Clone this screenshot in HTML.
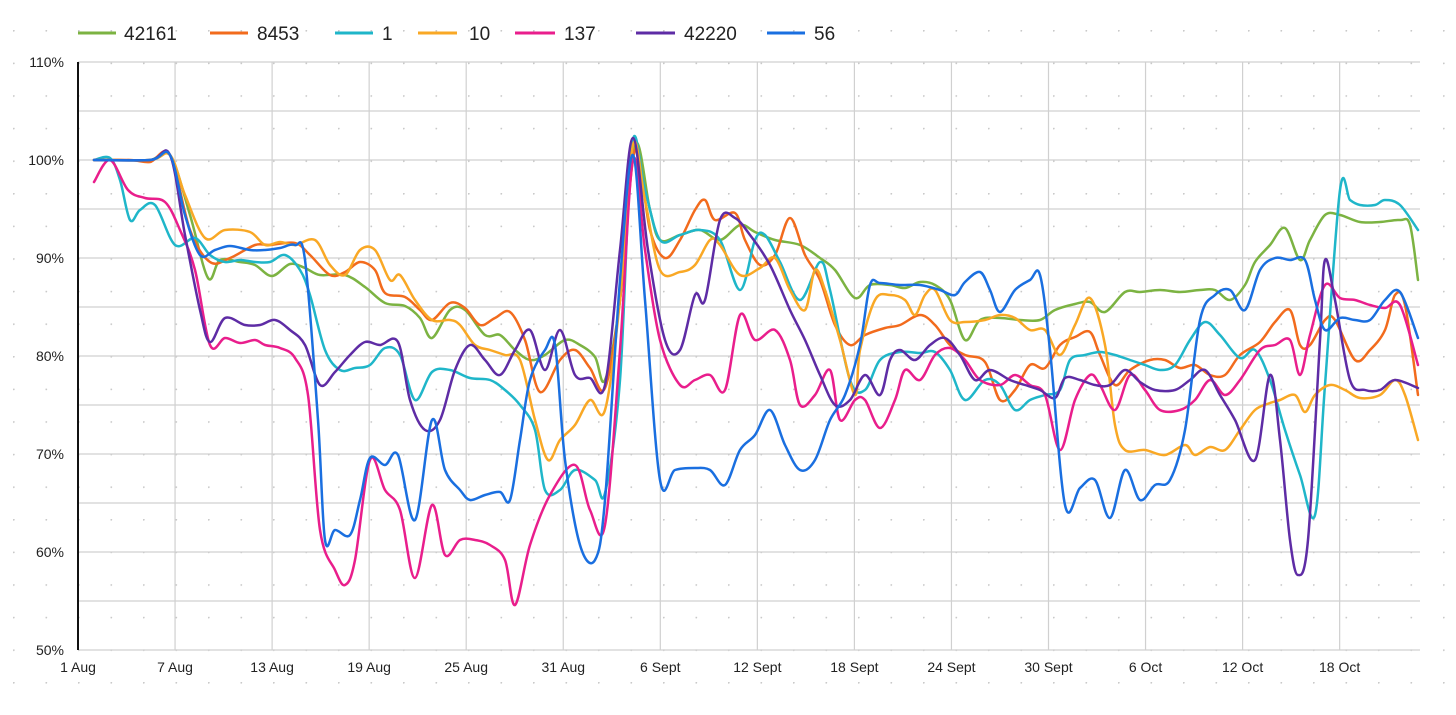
<!DOCTYPE html>
<html><head><meta charset="utf-8"><style>
html,body{margin:0;padding:0;background:#fff;}
svg text{font-family:"Liberation Sans",sans-serif;fill:#222;}
</style></head><body>
<svg id="c" width="1456" height="710" xmlns="http://www.w3.org/2000/svg">
<defs><pattern id="dots" x="13" y="30" width="32.5" height="32.6" patternUnits="userSpaceOnUse"><circle cx="0.8" cy="0.8" r="0.9" fill="#c8c8c8"/></pattern></defs>
<rect width="1456" height="710" fill="#fff"/>
<rect width="1456" height="710" fill="url(#dots)"/>
<g id="grid" stroke="#d0d0d0" stroke-width="1.2"></g>
<line x1="78" y1="62" x2="78" y2="650" stroke="#111" stroke-width="2"/>
<g id="labels" font-size="14"></g>
<g id="series" fill="none" stroke-width="2.5" stroke-linejoin="round" stroke-linecap="round"></g>
<g font-size="19">
<line x1="78" y1="33" x2="116" y2="33" stroke="#7cb342" stroke-width="3"/><text x="124" y="40">42161</text>
<line x1="210" y1="33" x2="248" y2="33" stroke="#f26b1d" stroke-width="3"/><text x="257" y="40">8453</text>
<line x1="335" y1="33" x2="373" y2="33" stroke="#1fb6c9" stroke-width="3"/><text x="382" y="40">1</text>
<line x1="418" y1="33" x2="457" y2="33" stroke="#f9a825" stroke-width="3"/><text x="469" y="40">10</text>
<line x1="515" y1="33" x2="555" y2="33" stroke="#e91e8c" stroke-width="3"/><text x="564" y="40">137</text>
<line x1="636" y1="33" x2="675" y2="33" stroke="#5e2ca5" stroke-width="3"/><text x="684" y="40">42220</text>
<line x1="767" y1="33" x2="805" y2="33" stroke="#1a6fe0" stroke-width="3"/><text x="814" y="40">56</text>
</g>
</svg>
<script>
const NS="http://www.w3.org/2000/svg";
function el(t,a,p,txt){const e=document.createElementNS(NS,t);for(const k in a)e.setAttribute(k,a[k]);if(txt!==undefined)e.textContent=txt;p.appendChild(e);return e;}
const g=document.getElementById('grid'),lb=document.getElementById('labels'),sg=document.getElementById('series');
for(let i=0;i<=12;i++){const y=62+i*49;el('line',{x1:78,y1:y,x2:1420,y2:y},g);}
for(let i=0;i<=6;i++){el('text',{x:64,y:62+i*98+5,'text-anchor':'end'},lb,(110-i*10)+'%');}
const xl=['1 Aug','7 Aug','13 Aug','19 Aug','25 Aug','31 Aug','6 Sept','12 Sept','18 Sept','24 Sept','30 Sept','6 Oct','12 Oct','18 Oct'];
xl.forEach((t,i)=>{const x=78+i*97.05;if(i>0)el('line',{x1:x,y1:62,x2:x,y2:650},g);el('text',{x:x,y:672,'text-anchor':'middle'},lb,t);});
const S=[
["#7cb342",[94,160,110,160,150,160,170,155,190,215,208,278,220,260,240,262,255,265,272,276,290,264,305,268,320,275,345,275,365,287,385,303,405,306,420,318,432,338,450,310,465,310,485,335,500,335,515,350,530,360,545,355,565,340,580,345,595,357,605,380,620,300,635,145,650,210,660,240,680,235,700,230,720,240,740,225,755,232,775,240,800,245,820,258,835,270,855,298,870,285,890,285,905,288,920,282,935,285,950,300,965,340,980,320,1000,318,1020,320,1040,320,1055,310,1075,304,1090,302,1105,312,1125,292,1140,292,1160,290,1180,292,1200,290,1215,290,1230,300,1245,285,1255,262,1270,245,1285,228,1300,260,1310,240,1325,215,1340,215,1360,222,1380,222,1400,220,1410,225,1418,280]],
["#f26b1d",[94,160,130,160,150,162,170,155,190,230,210,262,230,258,255,245,270,245,295,243,310,255,330,275,345,272,360,262,375,270,385,293,405,297,420,310,432,320,450,303,465,308,480,325,495,318,510,312,525,340,540,392,560,360,575,350,590,368,605,388,620,300,635,150,650,230,665,258,680,240,695,210,705,200,715,220,735,213,745,240,760,265,775,255,790,218,805,255,820,280,835,325,850,345,865,335,885,328,900,325,920,315,935,325,950,345,965,355,985,362,1000,400,1015,390,1030,365,1045,368,1060,345,1075,337,1090,332,1100,355,1115,385,1130,370,1150,360,1165,360,1180,368,1195,365,1210,375,1225,375,1240,355,1260,342,1275,322,1290,310,1300,345,1310,345,1325,320,1335,320,1355,360,1370,350,1385,330,1395,295,1405,305,1418,395]],
["#1fb6c9",[94,160,110,158,120,180,130,220,140,210,155,205,175,245,195,238,210,255,225,262,240,260,255,262,270,262,285,255,300,270,310,295,325,350,340,370,355,368,370,365,385,348,400,355,415,400,432,372,450,370,470,378,490,380,505,390,520,405,535,430,545,490,560,490,575,470,595,480,605,493,620,380,632,145,645,190,660,240,680,235,700,230,720,240,740,290,755,240,765,235,780,262,800,300,820,262,830,290,850,380,865,390,880,360,900,352,920,353,935,352,950,370,965,400,985,380,1000,385,1015,410,1030,400,1045,395,1060,390,1070,360,1085,355,1100,352,1115,355,1130,360,1145,365,1160,370,1175,365,1190,340,1205,322,1220,335,1240,358,1255,350,1270,380,1285,430,1300,475,1315,515,1325,385,1340,190,1350,200,1360,205,1375,205,1385,200,1400,205,1418,230]],
["#f9a825",[94,160,150,160,170,155,185,195,205,238,225,230,250,232,265,245,280,242,295,245,315,240,330,265,345,275,360,250,375,250,390,280,400,275,415,300,432,320,450,320,460,325,475,345,490,350,505,355,520,360,535,420,548,460,560,440,575,425,590,400,605,410,620,300,633,145,645,200,660,270,680,272,695,265,710,240,720,245,740,275,760,268,775,258,790,290,805,310,815,270,825,290,840,340,855,395,860,350,875,300,890,295,905,300,915,315,925,295,935,290,950,320,965,322,985,320,1000,315,1015,318,1030,330,1045,330,1060,355,1075,325,1090,298,1105,345,1115,425,1125,450,1145,450,1165,455,1185,445,1195,455,1210,447,1225,450,1240,430,1255,410,1270,403,1280,400,1295,395,1305,412,1315,395,1330,385,1345,390,1360,398,1380,395,1395,380,1405,395,1418,440]],
["#e91e8c",[94,182,110,160,128,190,145,198,165,202,180,230,195,270,210,345,225,338,240,343,255,340,265,345,280,348,295,358,308,395,320,530,335,570,345,585,355,560,370,460,385,490,400,510,415,578,432,505,445,555,460,540,475,540,490,545,505,560,515,605,530,545,550,495,575,465,590,510,605,525,620,350,633,160,645,250,660,340,680,385,695,380,710,375,725,390,740,315,755,340,775,330,790,360,800,405,815,395,830,370,840,420,855,400,865,400,880,428,895,400,905,370,920,380,935,355,950,348,965,360,980,380,1000,385,1015,375,1030,385,1045,395,1060,450,1075,400,1090,375,1100,385,1115,410,1130,375,1145,390,1160,410,1180,410,1195,400,1210,380,1225,395,1240,380,1260,350,1275,345,1290,340,1300,375,1310,335,1325,285,1340,298,1355,300,1370,305,1385,308,1400,305,1418,365]],
["#5e2ca5",[94,160,150,160,170,155,185,235,200,310,210,342,225,318,245,325,260,325,275,320,290,330,305,345,320,385,335,372,350,355,365,342,380,345,398,342,410,400,425,430,440,420,455,370,470,345,485,360,500,375,515,350,530,330,545,370,560,330,575,375,590,378,605,385,620,250,633,138,648,250,665,340,680,350,695,295,705,300,720,220,735,218,750,235,770,265,790,310,805,340,820,375,835,405,850,400,865,375,880,395,890,360,900,350,915,360,930,345,945,338,960,355,975,380,990,370,1010,380,1025,385,1040,390,1055,398,1065,378,1080,380,1095,385,1110,385,1125,370,1140,382,1155,390,1175,390,1190,380,1205,370,1220,395,1235,420,1255,460,1270,375,1280,440,1290,540,1298,575,1308,540,1320,340,1325,260,1335,300,1350,380,1365,390,1380,390,1395,380,1418,388]],
["#1a6fe0",[94,160,150,160,170,155,185,215,200,255,215,250,230,246,250,250,265,250,280,248,295,245,305,260,318,420,325,540,335,530,350,535,360,500,370,458,385,465,398,455,415,520,432,420,445,470,460,490,470,500,485,495,500,492,510,500,520,440,530,380,545,350,555,345,565,460,580,545,595,560,605,500,620,280,633,155,645,300,660,480,675,470,695,468,710,470,725,485,740,450,755,435,770,410,785,445,800,470,815,460,830,420,845,395,860,345,870,285,880,283,900,285,920,285,940,290,955,295,965,282,980,272,990,290,1000,312,1015,290,1030,280,1040,275,1050,350,1065,505,1080,488,1095,480,1110,518,1125,470,1140,500,1155,485,1170,480,1185,430,1200,320,1215,295,1230,290,1245,310,1260,270,1275,258,1290,260,1305,260,1315,300,1325,330,1340,318,1355,320,1370,320,1385,300,1400,292,1418,338]]
];
S.forEach(([c,a])=>{const p=[];for(let i=0;i<a.length;i+=2)p.push([a[i],a[i+1]]);
let d='M'+p[0][0]+','+p[0][1];
for(let i=0;i<p.length-1;i++){const p0=p[Math.max(0,i-1)],p1=p[i],p2=p[i+1],p3=p[Math.min(p.length-1,i+2)];const t=6;
d+=` C${p1[0]+(p2[0]-p0[0])/t},${p1[1]+(p2[1]-p0[1])/t} ${p2[0]-(p3[0]-p1[0])/t},${p2[1]-(p3[1]-p1[1])/t} ${p2[0]},${p2[1]}`;}
el('path',{d:d,stroke:c},sg);});
</script>
</body></html>
